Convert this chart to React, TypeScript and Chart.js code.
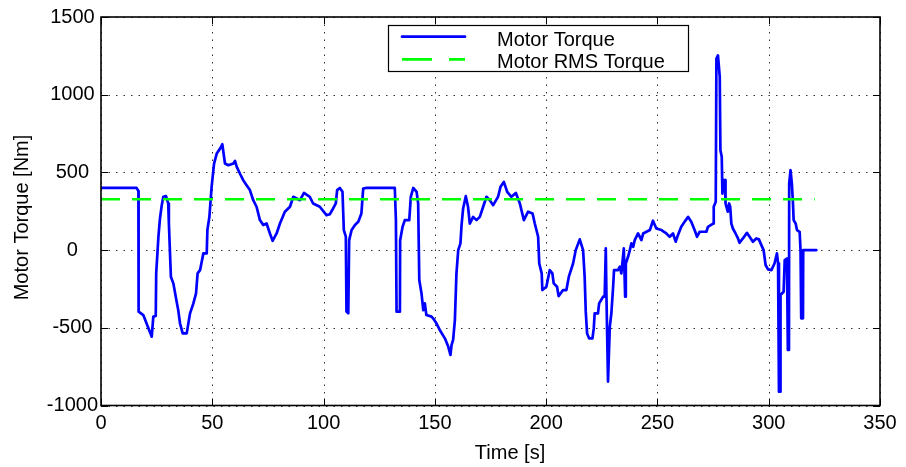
import React, { useEffect, useRef } from 'react';
import { Chart, registerables } from 'chart.js';

Chart.register(...registerables);

// ---------------- data ----------------
const timeS: number[] = [
  0, 16.0, 16.8, 16.9, 19.0, 22.8, 23.5, 24.6, 24.8, 25.8, 26.5, 27.3, 28.0, 29.2, 30.2, 30.5,
  31.4, 32.5, 34.0, 34.7, 35.5, 36.7, 38.5, 40.0, 41.5, 42.7, 43.4, 44.5, 46.0, 47.5, 47.8, 48.7,
  49.7, 50.8, 52.0, 53.5, 54.5, 55.7, 57.2, 59.5, 60.2, 61.0, 62.4, 63.9, 65.4, 66.9, 68.4, 69.9,
  71.4, 72.9, 74.4, 75.9, 77.1, 78.9, 80.4,
  82.6, 84.9, 86.4, 89.4, 91.2, 93.8, 95.3, 98.3, 101.3, 102.8, 104.3, 105.5, 106.1, 107.3, 108.5,
  109.1, 110.0, 110.3, 111.1, 111.5, 112.6, 114.1, 115.6, 117.0, 117.8, 119.0, 132.0, 132.5, 132.8,
  134.3, 134.4, 135.5, 136.5, 138.5, 139.2, 140.3, 141.8, 142.5, 143.0, 144.0, 144.8, 145.5, 146.2,
  148.5, 149.2, 150.7, 152.2, 154.5, 156.0, 157.0, 157.5, 158.2, 159.0, 159.7, 160.5, 161.5, 162.0,
  162.7, 163.9, 164.9, 165.7,
  167.2, 168.7, 170.2, 171.7, 173.2, 174.7, 176.2, 178.4, 179.5, 181.0, 182.5, 184.4, 186.4, 188.2,
  188.9, 190.0, 191.9, 193.9, 194.9, 196.4, 196.9, 198.0, 198.3, 200.1, 201.6, 202.8, 203.4, 204.9,
  205.6, 207.6, 209.1, 210.2, 212.1, 213.3, 215.1, 216.6, 217.3, 217.8, 218.4, 219.3, 220.8, 221.4,
  221.8, 223.3, 223.8, 225.6, 226.3, 226.8, 227.1, 227.8, 228.6, 229.3, 230.1, 230.5, 232.3, 233.1,
  233.8, 234.9, 235.5, 235.8, 236.8, 237.6, 238.3, 239.1, 239.8, 241.3, 242.8, 243.6, 246.6, 248.0,
  249.5, 251.8, 254.0, 255.5,
  257.0, 258.2, 259.2, 260.7, 262.2, 263.8, 265.2, 266.7, 267.8, 269.0, 272.0, 272.7, 275.0, 275.3,
  276.2, 276.5, 277.2, 278.0, 278.3, 278.9, 279.2, 279.8, 280.4, 280.6, 281.6, 282.2, 282.7, 283.2,
  283.9, 285.1, 286.2, 286.9, 288.4, 290.2, 291.4, 292.9, 294.4, 295.6, 296.7, 297.7, 298.6, 299.7,
  301.2, 302.6, 303.7, 304.2, 304.6, 305.2, 305.3, 306.7, 307.2, 308.2, 308.6, 309.1, 309.2, 309.8,
  310.4, 310.9, 311.2, 312.1, 312.7, 313.9, 314.3, 314.6, 315.4, 315.5, 321.4,
];

const torqueNm: number[] = [
  400, 400, 380, -396, -418, -557, -428, -424, -150, 86, 204, 289, 343, 347, 300, 171,
  -171, -214, -332, -386, -471, -536, -536, -407, -343, -279, -150, -129, -21, -21, 129, 214,
  407, 557, 621, 653, 681, 557, 546, 557, 574, 536, 493, 450, 418, 386, 321, 279,
  193, 161, 171, 107, 60, 107, 171,
  247, 279, 343, 321, 368, 343, 300, 279, 225, 231, 268, 300, 386, 400, 375,
  129, 86, -396, -407, 64, 129, 161, 182, 236, 396, 400, 400, 193, -396,
  -396, 64, 150, 193, 193, 343, 400, 375, 300, -193, -279, -386, -343, -418,
  -428, -439, -471, -514, -568, -621, -675, -611, -578, -450, -150, 0, 43, 161,
  268, 347, 279, 171,
  214, 193, 214, 279, 343, 321, 289, 343, 407, 439, 375, 343, 368, 300,
  257, 193, 247, 236, 171, 86, -86, -150, -257, -236, -129, -150, -214, -236,
  -296, -257, -257, -171, -86, 0, 69, 0, -171, -396, -536, -568, -568, -504,
  -407, -407, -343, -300, -300, 11, -300, -846, -493, -407, -236, -129, -129, -107,
  -150, 11, -300, -86, -43, 0, 43, 21, 64, 107, 64, 107, 129, 189,
  139, 129, 107, 86,
  107, 54, 96, 150, 182, 214, 182, 129, 86, 118, 118, 150, 171, 279,
  311, 1232, 1253, 1114, 643, 600, 364, 450, 450, 300, 247, 300, 279, 171,
  139, 107, 75, 47, 75, 111, 86, 54, 75, 69, 32, 0, -96, -124,
  -129, -86, -21, -86, -911, -911, -289, -268, -64, -54, -643, -643, 428, 514,
  428, 300, 193, 171, 129, 118, 0, -439, -439, 0, 0,
];

const rmsTimeS: number[] = [0, 320.7];
const rmsTorqueNm: number[] = [327, 327];

const xTickValues: number[] = [0, 50, 100, 150, 200, 250, 300, 350];
const yTickValues: number[] = [-1000, -500, 0, 500, 1000, 1500];
const seriesNames: string[] = ['Motor Torque', 'Motor RMS Torque'];
const xAxisTitle = 'Time [s]';
const yAxisTitle = 'Motor Torque [Nm]';

// ---------------- styling ----------------
const FONT = '"Liberation Sans", Arial, Helvetica, sans-serif';
const BLUE = '#0000ff';
const GREEN = '#00ff00';

const framePlugin = {
  id: 'matlabFrame',
  beforeDatasetsDraw(chart: any) {
    const { ctx, chartArea: a, scales } = chart;
    const x = scales.x;
    const y = scales.y;
    ctx.save();
    ctx.strokeStyle = 'rgba(0,0,0,0.8)';
    ctx.lineWidth = 1;
    ctx.setLineDash([1.5, 6]);
    for (const v of xTickValues) {
      const px = Math.round(x.getPixelForValue(v)) + 0.5;
      ctx.beginPath();
      ctx.moveTo(px, a.top);
      ctx.lineTo(px, a.bottom);
      ctx.stroke();
    }
    for (const v of yTickValues) {
      const py = Math.round(y.getPixelForValue(v)) + 0.5;
      ctx.beginPath();
      ctx.moveTo(a.left, py);
      ctx.lineTo(a.right, py);
      ctx.stroke();
    }
    ctx.restore();
  },
  afterDatasetsDraw(chart: any) {
    const { ctx, chartArea: a, scales } = chart;
    const x = scales.x;
    const y = scales.y;
    ctx.save();
    // inward tick marks
    ctx.strokeStyle = '#000';
    ctx.lineWidth = 1;
    ctx.setLineDash([]);
    const tl = 7;
    for (const v of xTickValues) {
      const px = Math.round(x.getPixelForValue(v)) + 0.5;
      ctx.beginPath();
      ctx.moveTo(px, a.bottom);
      ctx.lineTo(px, a.bottom - tl);
      ctx.moveTo(px, a.top);
      ctx.lineTo(px, a.top + tl);
      ctx.stroke();
    }
    for (const v of yTickValues) {
      const py = Math.round(y.getPixelForValue(v)) + 0.5;
      ctx.beginPath();
      ctx.moveTo(a.left, py);
      ctx.lineTo(a.left + tl, py);
      ctx.moveTo(a.right, py);
      ctx.lineTo(a.right - tl, py);
      ctx.stroke();
    }
    // box
    ctx.lineWidth = 1.6;
    ctx.strokeRect(a.left, a.top, a.right - a.left, a.bottom - a.top);

    // legend
    const lx = 388.5, ly = 25.5, lw = 300, lh = 46;
    ctx.fillStyle = '#fff';
    ctx.fillRect(lx, ly, lw, lh);
    ctx.lineWidth = 1.2;
    ctx.strokeStyle = '#000';
    ctx.strokeRect(lx, ly, lw, lh);
    const ds = chart.data.datasets;
    ctx.lineWidth = 2.7;
    ctx.lineCap = 'round';
    ctx.strokeStyle = ds[0].borderColor;
    ctx.beginPath();
    ctx.moveTo(402, 36.7);
    ctx.lineTo(465, 36.7);
    ctx.stroke();
    ctx.strokeStyle = ds[1].borderColor;
    ctx.lineCap = 'butt';
    ctx.beginPath();
    ctx.moveTo(402, 59.3);
    ctx.lineTo(432, 59.3);
    ctx.moveTo(449, 59.3);
    ctx.lineTo(465, 59.3);
    ctx.stroke();
    ctx.fillStyle = '#000';
    ctx.font = `20px ${FONT}`;
    ctx.textAlign = 'left';
    ctx.textBaseline = 'alphabetic';
    ctx.fillText(ds[0].label, 497, 46);
    ctx.fillText(ds[1].label, 497, 67.6);

    // axis titles
    ctx.textAlign = 'center';
    ctx.fillText(xAxisTitle, 510, 459);
    ctx.translate(27.5, 217.5);
    ctx.rotate(-Math.PI / 2);
    ctx.fillText(yAxisTitle, 0, 0);
    ctx.restore();
  },
};

export default function App() {
  const ref = useRef<HTMLCanvasElement | null>(null);

  useEffect(() => {
    if (!ref.current) return;
    const torquePoints = timeS.map((t, i) => ({ x: t, y: torqueNm[i] }));
    const rmsPoints = rmsTimeS.map((t, i) => ({ x: t, y: rmsTorqueNm[i] }));
    const chart = new Chart(ref.current, {
      type: 'line',
      data: {
        datasets: [
          {
            label: seriesNames[0],
            data: torquePoints,
            borderColor: BLUE,
            borderWidth: 2.7,
            pointRadius: 0,
            tension: 0,
            borderJoinStyle: 'round',
            borderCapStyle: 'round',
            fill: false,
            order: 2,
          },
          {
            label: seriesNames[1],
            data: rmsPoints,
            borderColor: GREEN,
            borderWidth: 2.6,
            borderDash: [19, 12],
            pointRadius: 0,
            tension: 0,
            fill: false,
            order: 1,
          },
        ],
      },
      options: {
        responsive: false,
        animation: false,
        devicePixelRatio: 1,
        layout: { padding: { top: 17, right: 26, left: 0, bottom: 0 } },
        plugins: {
          legend: { display: false },
          tooltip: { enabled: false },
          title: { display: false },
        },
        scales: {
          x: {
            type: 'linear',
            min: 0,
            max: 350,
            grid: { display: false },
            border: { display: false },
            afterBuildTicks: (s: any) => {
              s.ticks = xTickValues.map((v) => ({ value: v }));
            },
            afterFit: (s: any) => {
              s.height = 61.5;
            },
            ticks: {
              autoSkip: false,
              maxRotation: 0,
              padding: -2,
              color: '#000',
              font: { family: FONT, size: 20 },
              callback: (v: any) => String(v),
            },
          },
          y: {
            type: 'linear',
            min: -1000,
            max: 1500,
            grid: { display: false },
            border: { display: false },
            afterBuildTicks: (s: any) => {
              s.ticks = yTickValues.map((v) => ({ value: v }));
            },
            afterFit: (s: any) => {
              s.width = 101;
            },
            ticks: {
              autoSkip: false,
              padding: -5,
              crossAlign: 'center',
              color: '#000',
              font: { family: FONT, size: 20 },
              callback: (v: any) => String(v),
            },
          },
        },
      },
      plugins: [framePlugin],
    } as any);
    return () => chart.destroy();
  }, []);

  return (
    <div style={{ position: 'absolute', left: 0, top: 0, width: 906, height: 467, background: '#fff' }}>
      <canvas ref={ref} width={906} height={467} style={{ width: 906, height: 467, display: 'block' }} />
    </div>
  );
}
